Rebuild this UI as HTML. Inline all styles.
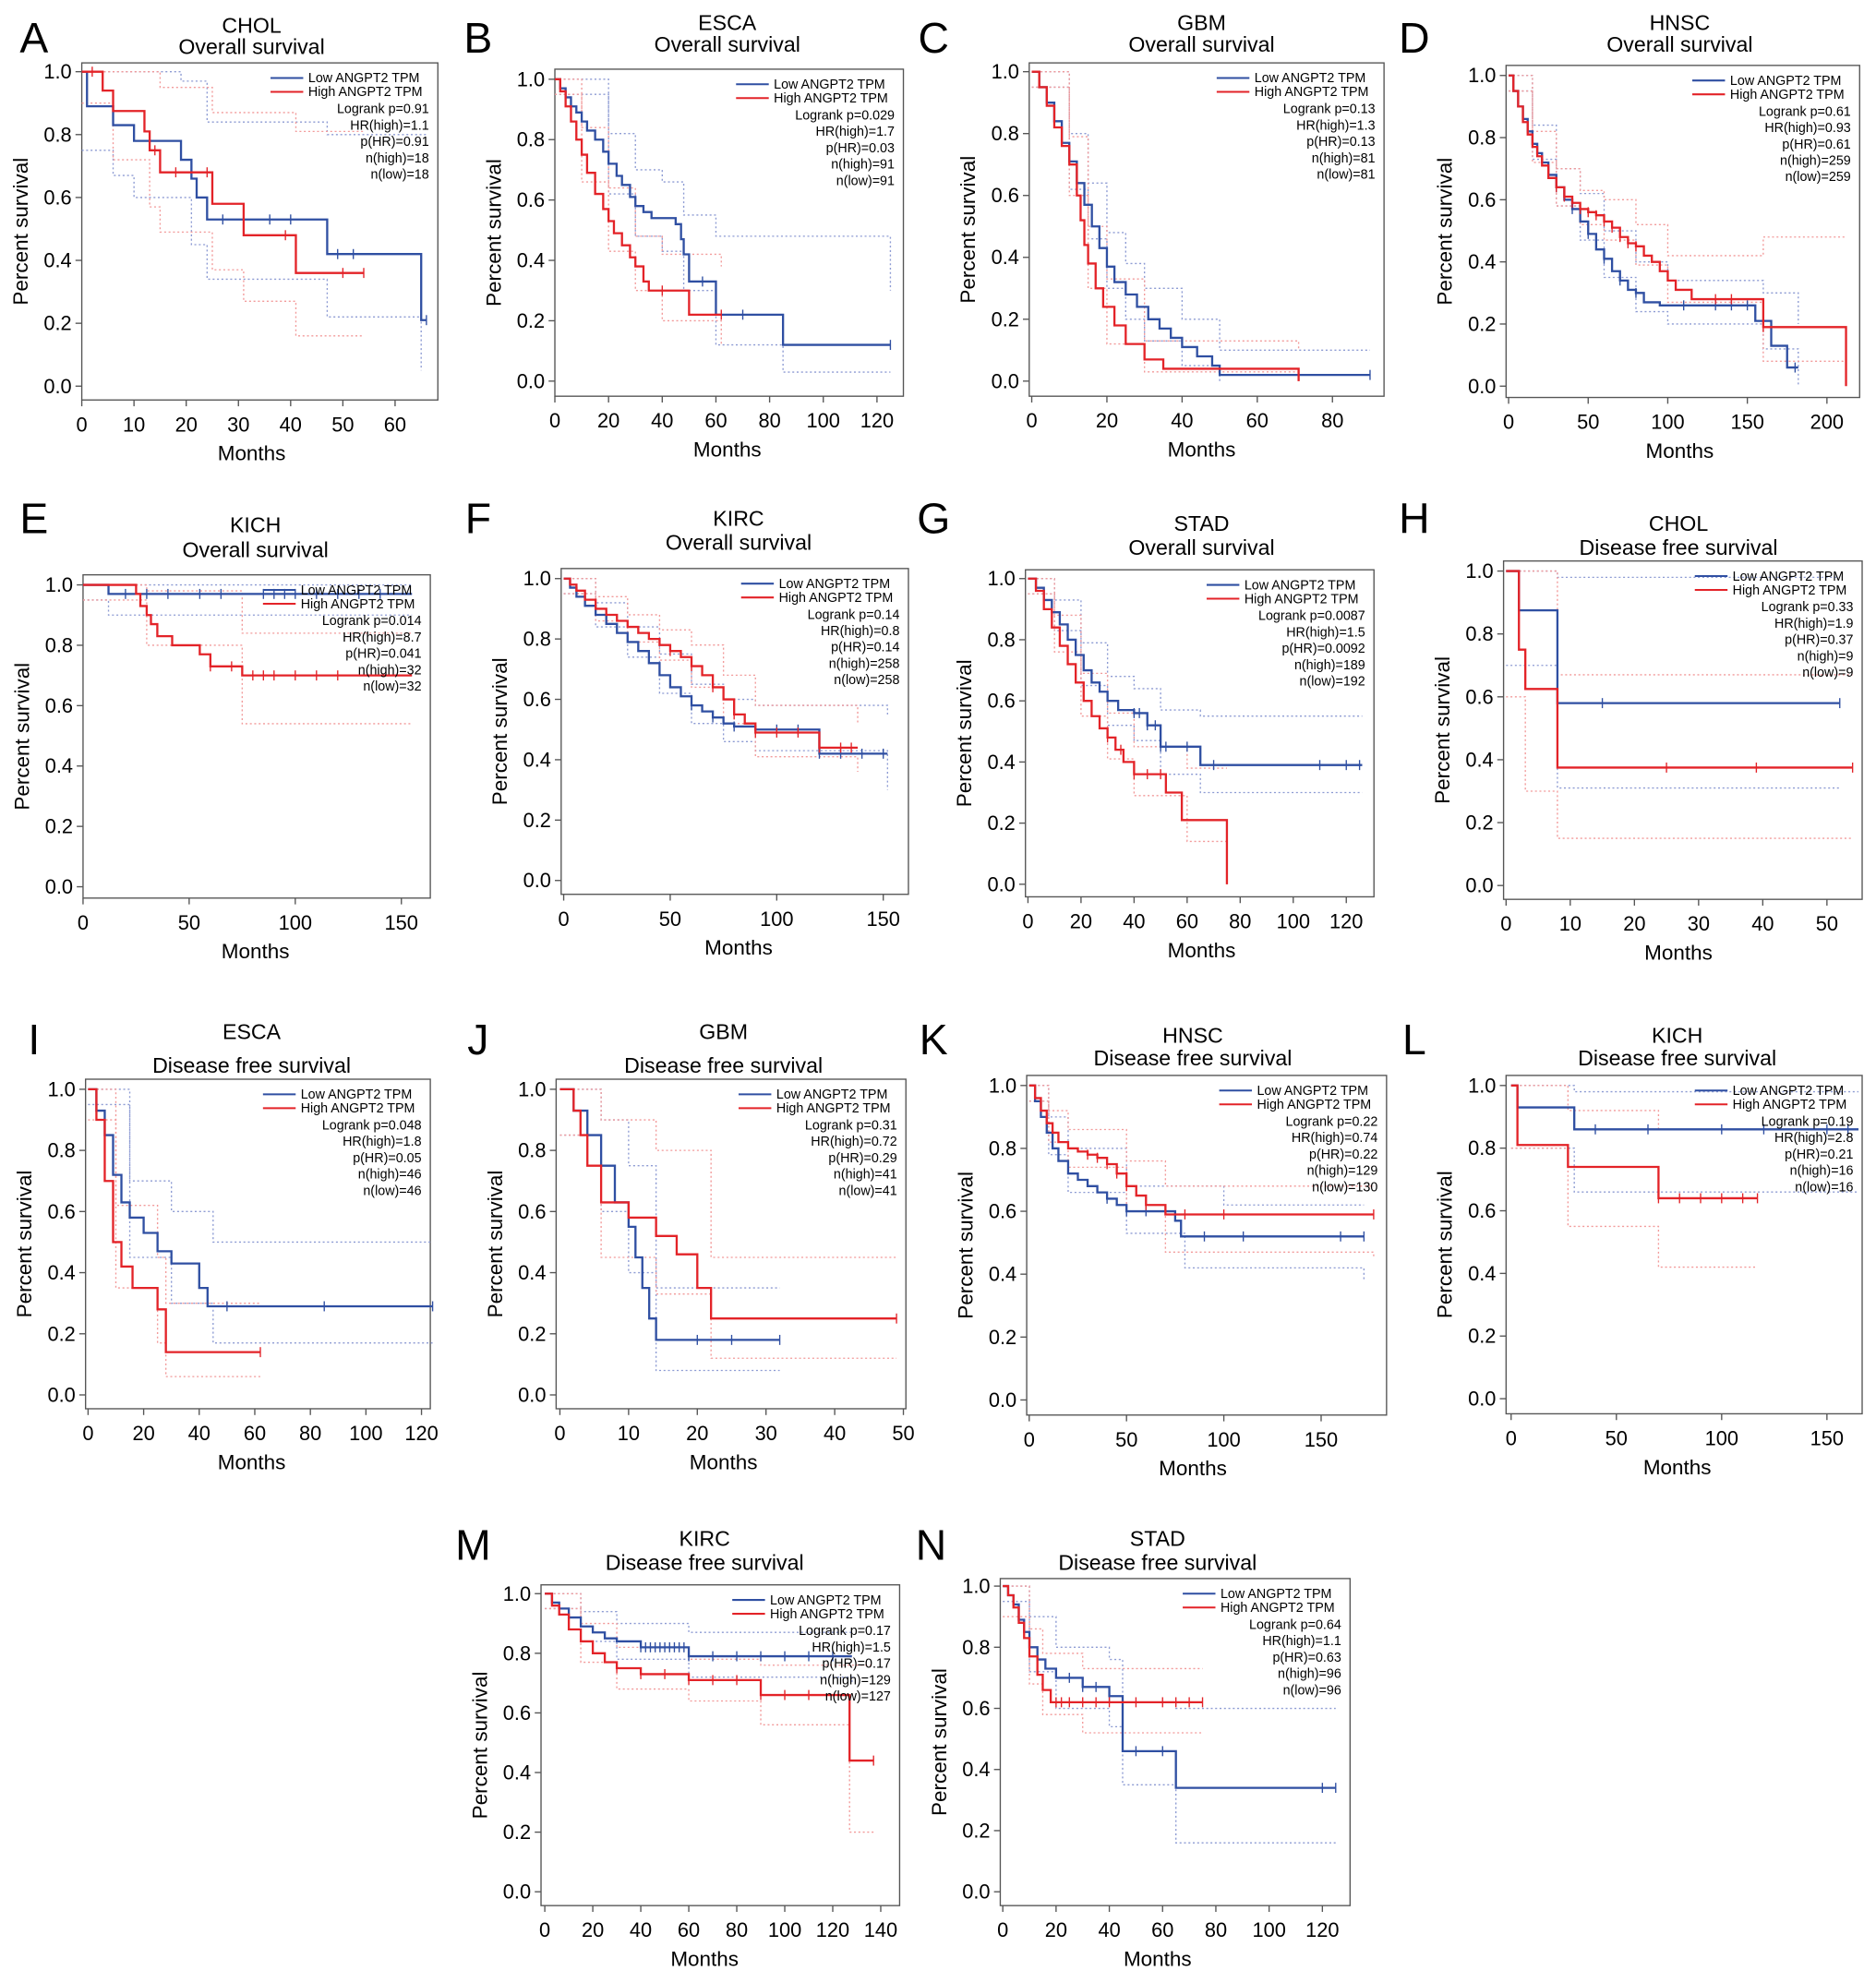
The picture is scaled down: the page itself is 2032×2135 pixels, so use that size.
<!DOCTYPE html>
<html><head><meta charset="utf-8">
<style>
html,body{margin:0;padding:0;background:#fff;}
svg{display:block;font-family:"Liberation Sans",Arial,sans-serif;}
</style></head>
<body>
<svg id="fig" width="2032" height="2135" viewBox="0 0 1491 1567" preserveAspectRatio="none" xmlns="http://www.w3.org/2000/svg"></svg>
<script>
// ---- data arrays (step points [months, survival]) ----
const panelLetters = ["A","B","C","D","E","F","G","H","I","J","K","L","M","N"];
const cancerNames = ["CHOL","ESCA","GBM","HNSC","KICH","KIRC","STAD","CHOL","ESCA","GBM","HNSC","KICH","KIRC","STAD"];
const endpointNames = ["Overall survival","Overall survival","Overall survival","Overall survival","Overall survival","Overall survival","Overall survival","Disease free survival","Disease free survival","Disease free survival","Disease free survival","Disease free survival","Disease free survival","Disease free survival"];
const logrankP = ["0.91","0.029","0.13","0.61","0.014","0.14","0.0087","0.33","0.048","0.31","0.22","0.19","0.17","0.64"];
const hrHigh = ["1.1","1.7","1.3","0.93","8.7","0.8","1.5","1.9","1.8","0.72","0.74","2.8","1.5","1.1"];
const pHR = ["0.91","0.03","0.13","0.61","0.041","0.14","0.0092","0.37","0.05","0.29","0.22","0.21","0.17","0.63"];
const nHigh = ["18","91","81","259","32","258","189","9","46","41","129","16","129","96"];
const nLow = ["18","91","81","259","32","258","192","9","46","41","130","16","127","96"];
const xTickStep = [10,20,20,50,50,50,20,10,20,10,50,50,20,20];
const xTickMax = [60,120,80,200,150,150,120,50,120,50,150,150,140,120];

const lowCurves = [
 [[0,1],[1,0.89],[6,0.83],[10,0.78],[19,0.72],[21,0.66],[22,0.6],[24,0.53],[47,0.42],[65,0.21],[66,0.21]],
 [[0,1],[2,0.97],[4,0.94],[6,0.91],[8,0.89],[10,0.86],[12,0.83],[15,0.8],[18,0.76],[20,0.72],[23,0.68],[25,0.65],[28,0.61],[30,0.58],[33,0.56],[36,0.54],[45,0.52],[47,0.47],[48,0.42],[50,0.33],[60,0.22],[85,0.12],[125,0.12]],
 [[0,1],[2,0.95],[4,0.9],[6,0.84],[8,0.77],[10,0.71],[12,0.64],[14,0.57],[16,0.5],[18,0.43],[20,0.37],[22,0.32],[25,0.28],[28,0.24],[31,0.2],[34,0.17],[37,0.14],[40,0.11],[44,0.08],[48,0.05],[50,0.02],[90,0.02]],
 [[0,1],[3,0.95],[6,0.9],[9,0.86],[12,0.82],[15,0.78],[18,0.75],[21,0.72],[25,0.68],[30,0.64],[35,0.6],[40,0.57],[45,0.53],[50,0.49],[55,0.44],[60,0.41],[65,0.37],[70,0.34],[75,0.31],[80,0.3],[85,0.27],[95,0.26],[155,0.21],[165,0.13],[175,0.06],[182,0.06]],
 [[0,1],[12,0.97],[155,0.97]],
 [[0,1],[3,0.97],[6,0.94],[10,0.91],[15,0.88],[20,0.85],[25,0.82],[30,0.79],[35,0.76],[40,0.72],[45,0.68],[50,0.64],[55,0.61],[60,0.58],[65,0.56],[70,0.54],[75,0.52],[80,0.51],[90,0.5],[120,0.42],[152,0.42]],
 [[0,1],[3,0.97],[6,0.93],[9,0.89],[12,0.85],[15,0.8],[18,0.75],[21,0.7],[24,0.66],[27,0.63],[30,0.6],[34,0.57],[40,0.56],[45,0.52],[50,0.45],[65,0.39],[126,0.39]],
 [[0,1],[2,0.875],[8,0.58],[52,0.58]],
 [[0,1],[3,0.93],[6,0.85],[9,0.72],[12,0.63],[15,0.58],[20,0.53],[25,0.47],[30,0.43],[40,0.35],[43,0.29],[124,0.29]],
 [[0,1],[2,0.93],[4,0.85],[6,0.75],[8,0.63],[10,0.55],[11,0.45],[12,0.35],[13,0.25],[14,0.18],[32,0.18]],
 [[0,1],[3,0.95],[6,0.9],[9,0.85],[12,0.8],[15,0.76],[20,0.72],[25,0.7],[30,0.68],[35,0.66],[40,0.64],[45,0.62],[50,0.6],[75,0.57],[78,0.52],[172,0.52]],
 [[0,1],[3,0.93],[30,0.86],[165,0.86]],
 [[0,1],[3,0.97],[6,0.95],[10,0.92],[15,0.89],[20,0.87],[25,0.85],[30,0.84],[40,0.82],[60,0.79],[128,0.79]],
 [[0,1],[2,0.97],[4,0.94],[6,0.89],[8,0.85],[10,0.8],[13,0.76],[16,0.73],[20,0.7],[30,0.67],[40,0.64],[45,0.46],[65,0.34],[125,0.34]]
];
const highCurves = [
 [[0,1],[4,0.94],[6,0.875],[12,0.81],[13,0.75],[15,0.68],[25,0.58],[31,0.48],[41,0.36],[54,0.36]],
 [[0,1],[2,0.96],[4,0.91],[6,0.86],[8,0.8],[10,0.75],[12,0.69],[15,0.62],[18,0.57],[20,0.53],[22,0.49],[25,0.45],[28,0.41],[30,0.38],[33,0.33],[35,0.3],[50,0.22],[62,0.22]],
 [[0,1],[2,0.95],[4,0.89],[6,0.82],[8,0.76],[10,0.7],[12,0.6],[13,0.52],[14,0.44],[15,0.38],[17,0.3],[19,0.24],[22,0.18],[25,0.12],[30,0.07],[35,0.04],[71,0.0],[71,0.0]],
 [[0,1],[3,0.95],[6,0.9],[9,0.85],[12,0.81],[15,0.77],[18,0.74],[21,0.71],[25,0.67],[30,0.64],[35,0.61],[40,0.59],[45,0.57],[50,0.56],[55,0.55],[60,0.53],[65,0.51],[70,0.48],[75,0.46],[80,0.45],[85,0.42],[90,0.4],[95,0.37],[100,0.34],[105,0.31],[115,0.28],[160,0.19],[212,0.0],[212,0.0]],
 [[0,1],[25,0.97],[27,0.93],[30,0.9],[32,0.87],[35,0.83],[42,0.8],[55,0.77],[60,0.73],[75,0.7],[155,0.7]],
 [[0,1],[3,0.98],[6,0.96],[10,0.93],[15,0.9],[20,0.88],[25,0.86],[30,0.84],[35,0.82],[40,0.8],[45,0.78],[50,0.76],[55,0.74],[60,0.71],[65,0.68],[70,0.64],[75,0.6],[80,0.55],[85,0.52],[90,0.49],[120,0.44],[138,0.44]],
 [[0,1],[3,0.96],[6,0.9],[9,0.84],[12,0.78],[15,0.72],[18,0.66],[21,0.6],[24,0.55],[27,0.51],[30,0.48],[33,0.44],[36,0.4],[40,0.36],[52,0.3],[58,0.21],[75,0.0],[75,0.0]],
 [[0,1],[2,0.75],[3,0.625],[8,0.375],[54,0.375]],
 [[0,1],[3,0.9],[6,0.7],[9,0.5],[12,0.42],[16,0.35],[25,0.28],[28,0.14],[62,0.14]],
 [[0,1],[2,0.93],[3,0.85],[4,0.75],[6,0.63],[10,0.58],[14,0.52],[17,0.46],[20,0.35],[22,0.25],[49,0.25]],
 [[0,1],[3,0.96],[6,0.92],[9,0.88],[12,0.85],[15,0.82],[20,0.8],[25,0.79],[30,0.78],[35,0.77],[40,0.75],[45,0.72],[50,0.68],[55,0.65],[60,0.62],[70,0.59],[177,0.59]],
 [[0,1],[3,0.81],[27,0.74],[70,0.64],[117,0.64]],
 [[0,1],[3,0.96],[6,0.93],[10,0.88],[15,0.84],[20,0.8],[25,0.77],[30,0.75],[40,0.73],[60,0.71],[90,0.66],[127,0.44],[137,0.44]],
 [[0,1],[2,0.97],[4,0.93],[6,0.88],[8,0.83],[10,0.77],[13,0.71],[15,0.66],[18,0.62],[75,0.62]]
];
const lowCensor = [[27,36,40,49,52,66],[55,70,125],[90],[30,40,50,60,70,80,110,130,140,150,180],[20,30,40,55,65,85,90,95,100,110,120,130,140],[60,70,80,90,100,110,120,130,140,150],[40,42,45,48,50,52,60,70,110,120,125],[15,52],[50,85,124],[20,25,32],[40,50,60,90,110,160,172],[40,65,100,120,150,160],[40,42,44,46,48,50,52,54,56,58,60,70,80,90,100,110,120],[25,30,35,40,50,60,120,125]];
const highCensor = [[2,14,18,24,39,50,54],[40,62],[],[30,35,40,45,50,55,60,65,70,75,80,130,140,160],[60,70,80,85,90,100,110,120],[50,60,70,80,90,100,110,120,130,135],[30,35,40,45,50],[25,39,54],[62],[49],[30,35,40,45,50,60,80,100,177],[70,80,90,100,110,117],[30,40,50,60,70,80,90,100,110,137],[20,22,25,30,35,40,50,60,65,70,75]];
// confidence bands (coarse step points)
const lowUpper = [
 [[0,1],[19,0.97],[24,0.84],[47,0.8],[66,0.8]],[[0,1],[20,0.82],[30,0.7],[40,0.66],[48,0.55],[60,0.48],[125,0.3]],[[0,1],[10,0.8],[15,0.64],[20,0.48],[25,0.38],[30,0.3],[40,0.2],[50,0.1],[90,0.1]],[[0,1],[15,0.84],[30,0.7],[45,0.62],[60,0.5],[80,0.4],[100,0.34],[160,0.3],[182,0.2]],
 [[0,1],[155,1]],[[0,1],[15,0.92],[30,0.84],[45,0.75],[60,0.65],[75,0.6],[90,0.58],[152,0.55]],[[0,1],[10,0.93],[20,0.79],[30,0.68],[40,0.64],[50,0.57],[65,0.55],[126,0.55]],[[0,1],[8,0.98],[52,0.98]],
 [[0,1],[15,0.7],[30,0.6],[45,0.5],[124,0.5]],[[0,1],[6,0.9],[10,0.75],[14,0.35],[32,0.35]],[[0,1],[10,0.9],[20,0.8],[50,0.68],[100,0.62],[172,0.62]],[[0,1],[30,0.98],[165,0.98]],
 [[0,1],[15,0.94],[30,0.9],[60,0.87],[128,0.87]],[[0,1],[10,0.9],[20,0.8],[40,0.76],[45,0.62],[65,0.6],[125,0.6]]];
const lowLower = [
 [[0,0.75],[6,0.67],[10,0.6],[21,0.45],[24,0.34],[47,0.22],[65,0.05]],[[0,0.95],[20,0.62],[30,0.48],[40,0.43],[48,0.3],[60,0.12],[85,0.03],[125,0.03]],[[0,0.95],[10,0.62],[15,0.46],[20,0.3],[25,0.2],[30,0.13],[40,0.05],[50,0.0]],[[0,0.95],[15,0.73],[30,0.58],[45,0.47],[60,0.35],[80,0.24],[100,0.2],[160,0.12],[182,0.0]],
 [[0,0.95],[12,0.9],[155,0.9]],[[0,0.95],[15,0.84],[30,0.74],[45,0.62],[60,0.52],[75,0.46],[90,0.43],[152,0.3]],[[0,0.95],[10,0.83],[20,0.65],[30,0.52],[40,0.47],[50,0.36],[65,0.3],[126,0.3]],[[0,0.7],[8,0.31],[52,0.31]],
 [[0,0.95],[15,0.45],[30,0.3],[45,0.17],[124,0.17]],[[0,0.85],[6,0.6],[10,0.4],[14,0.08],[32,0.08]],[[0,0.95],[10,0.78],[20,0.66],[50,0.53],[80,0.42],[172,0.38]],[[0,0.8],[30,0.66],[165,0.66]],
 [[0,0.95],[15,0.84],[30,0.78],[60,0.72],[128,0.7]],[[0,0.95],[10,0.72],[20,0.6],[40,0.54],[45,0.35],[65,0.16],[125,0.16]]];
const highUpper = [
 [[0,1],[15,0.95],[25,0.87],[41,0.81],[54,0.81]],[[0,1],[10,0.84],[20,0.64],[30,0.48],[40,0.42],[62,0.38]],[[0,1],[10,0.79],[15,0.5],[20,0.33],[30,0.13],[71,0.1]],[[0,1],[15,0.82],[30,0.7],[45,0.63],[60,0.6],[80,0.52],[100,0.42],[160,0.48],[212,0.48]],
 [[0,1],[30,0.98],[75,0.84],[155,0.84]],[[0,1],[15,0.94],[30,0.88],[45,0.83],[60,0.78],[75,0.68],[90,0.58],[138,0.52]],[[0,1],[10,0.88],[20,0.69],[30,0.56],[40,0.45],[60,0.38],[75,0.38]],[[0,1],[8,0.67],[54,0.67]],
 [[0,1],[10,0.62],[25,0.45],[28,0.3],[62,0.3]],[[0,1],[6,0.9],[14,0.8],[22,0.45],[49,0.45]],[[0,1],[10,0.92],[20,0.86],[50,0.76],[70,0.68],[177,0.68]],[[0,1],[27,0.92],[70,0.86],[117,0.86]],
 [[0,1],[15,0.9],[30,0.82],[60,0.78],[90,0.76],[137,0.76]],[[0,1],[10,0.86],[15,0.78],[30,0.73],[75,0.73]]];
const highLower = [
 [[0,0.9],[6,0.72],[13,0.57],[15,0.49],[25,0.37],[31,0.27],[41,0.16],[54,0.16]],[[0,0.95],[10,0.66],[20,0.43],[30,0.3],[40,0.2],[62,0.12]],[[0,0.95],[10,0.6],[15,0.3],[20,0.12],[30,0.03],[71,0]],[[0,0.95],[15,0.72],[30,0.58],[45,0.52],[60,0.47],[80,0.39],[100,0.27],[160,0.08],[212,0]],
 [[0,0.95],[30,0.8],[75,0.54],[155,0.54]],[[0,0.95],[15,0.86],[30,0.79],[45,0.73],[60,0.64],[75,0.52],[90,0.41],[138,0.36]],[[0,0.95],[10,0.76],[20,0.55],[30,0.41],[40,0.29],[60,0.14],[75,0]],[[0,0.6],[3,0.3],[8,0.15],[54,0.15]],
 [[0,0.9],[10,0.35],[25,0.17],[28,0.06],[62,0.06]],[[0,0.85],[6,0.45],[14,0.33],[22,0.12],[49,0.12]],[[0,0.95],[10,0.82],[20,0.74],[50,0.6],[70,0.47],[177,0.45]],[[0,0.8],[27,0.55],[70,0.42],[117,0.42]],
 [[0,0.95],[15,0.77],[30,0.68],[60,0.64],[90,0.56],[127,0.2],[137,0.2]],[[0,0.9],[10,0.68],[15,0.58],[30,0.52],[75,0.52]]];

// ---- layout (display coords) ----
const boxes = [
 {l:65,r:348,t:50,b:318,y1:57,y0:307,x0:65,xr:249/60},
 {l:441,r:718,t:55,b:315,y1:63,y0:303,x0:441,xr:256/120},
 {l:818,r:1100,t:50,b:315,y1:57,y0:303,x0:820,xr:239/80},
 {l:1197,r:1478,t:52,b:316,y1:60,y0:307,x0:1199,xr:253/200},
 {l:66,r:342,t:457,b:714,y1:465,y0:705,x0:66,xr:253/150},
 {l:446,r:722,t:452,b:711,y1:460,y0:700,x0:448,xr:254/150},
 {l:815,r:1092,t:453,b:713,y1:460,y0:703,x0:817,xr:253/120},
 {l:1195,r:1480,t:446,b:715,y1:454,y0:704,x0:1197,xr:255/50},
 {l:68,r:342,t:858,b:1120,y1:866,y0:1109,x0:70,xr:265/120},
 {l:442,r:720,t:858,b:1120,y1:866,y0:1109,x0:445,xr:273/50},
 {l:816,r:1102,t:855,b:1125,y1:863,y0:1113,x0:818,xr:232/150},
 {l:1197,r:1480,t:855,b:1124,y1:863,y0:1112,x0:1201,xr:251/150},
 {l:430,r:715,t:1260,b:1515,y1:1267,y0:1504,x0:433,xr:267/140},
 {l:795,r:1073,t:1255,b:1515,y1:1261,y0:1504,x0:797,xr:254/120}
];
const letterPos = [[27,30],[380,30],[742,30],[1124,30],[27,412],[380,412],[742,412],[1124,412],[27,826],[380,826],[742,826],[1124,826],[376,1228],[740,1228]];
const titleY = [[20,37],[18,35],[18,35],[18,35],[417,437],[412,431],[416,435],[416,435],[820,847],[820,847],[823,841],[823,841],[1223,1242],[1223,1242]];
const titleX = [200,578,955,1335,203,587,955,1334,200,575,948,1333,560,920];

const NS="http://www.w3.org/2000/svg";
const svg=document.getElementById('fig');
function mk(tag,attrs,parent,text){const e=document.createElementNS(NS,tag);for(const k in attrs)e.setAttribute(k,attrs[k]);if(text!==undefined)e.textContent=text;(parent||svg).appendChild(e);return e;}
function stepPath(pts,X,Y){let d='M'+X(pts[0][0])+','+Y(pts[0][1]);for(let i=1;i<pts.length;i++){d+=' H'+X(pts[i][0])+' V'+Y(pts[i][1]);}return d;}
function survAt(pts,t){let s=pts[0][1];for(const p of pts){if(p[0]<=t)s=p[1];}return s;}

boxes.forEach((B,i)=>{
  const g=mk('g',{});
  
  
  const X=t=>B.x0+t*B.xr, Y=s=>B.y0+(B.y1-B.y0)*s;
  const L=mk('text',{x:letterPos[i][0],y:letterPos[i][1]+12,'font-size':34,'text-anchor':'middle'},g,panelLetters[i]);
  
  const cx=(B.l+B.r)/2, tx=titleX[i];
  const t1=mk('text',{x:tx,y:titleY[i][0]+6,'font-size':17,'text-anchor':'middle'},g,cancerNames[i]);
  
  const t2=mk('text',{x:tx,y:titleY[i][1]+6,'font-size':17,'text-anchor':'middle'},g,endpointNames[i]);
  
  const fr=mk('rect',{x:B.l,y:B.t,width:B.r-B.l,height:B.b-B.t,fill:'none',stroke:'#555','stroke-width':1},g);
  
  for(let k=0;k<=5;k++){const v=k*0.2,y=Y(v);
    mk('line',{x1:B.l-5,x2:B.l,y1:y,y2:y,stroke:'#555'},g);
    const tl=mk('text',{x:B.l-8,y:y+5.5,'font-size':16,'text-anchor':'end'},g,v.toFixed(1));
    }
  for(let v=0;v<=xTickMax[i];v+=xTickStep[i]){const x=X(v);
    mk('line',{x1:x,x2:x,y1:B.b,y2:B.b+5,stroke:'#555'},g);
    const tl=mk('text',{x:x,y:B.b+25,'font-size':16,'text-anchor':'middle'},g,String(v));
    }
  const xt=mk('text',{x:tx,y:B.b+48,'font-size':16.5,'text-anchor':'middle'},g,'Months');
  
  const ym=(B.t+B.b)/2;
  const yt=mk('text',{x:B.l-43,y:ym,'font-size':16.5,'text-anchor':'middle',transform:'rotate(-90 '+(B.l-43)+' '+ym+')'},g,'Percent survival');
  
  [[lowUpper,'#8d9bd3'],[lowLower,'#8d9bd3'],[highUpper,'#f29a9a'],[highLower,'#f29a9a']].forEach(([arr,col])=>{
    const p=mk('path',{d:stepPath(arr[i],X,Y),fill:'none',stroke:col,'stroke-width':1,'stroke-dasharray':'1.5,2'},g);
    });
  [[lowCurves,lowCensor,'#2f4fa2','low'],[highCurves,highCensor,'#e32328','high']].forEach(([cv,cs,col,nm])=>{
    const p=mk('path',{d:stepPath(cv[i],X,Y),fill:'none',stroke:col,'stroke-width':1.7},g);
    
    cs[i].forEach(t=>{const y=Y(survAt(cv[i],t));
      const c=mk('line',{x1:X(t),x2:X(t),y1:y-4,y2:y+4,stroke:col,'stroke-width':1},g);
      });
  });
  const lx=B.r-133, ly=B.t+12;
  const lg=mk('g',{},g);
  mk('line',{x1:lx,x2:lx+26,y1:ly,y2:ly,stroke:'#2f4fa2','stroke-width':1.5},lg);
  mk('line',{x1:lx,x2:lx+26,y1:ly+11,y2:ly+11,stroke:'#e32328','stroke-width':1.5},lg);
  mk('text',{x:lx+30,y:ly+3.5,'font-size':10.5},lg,'Low ANGPT2 TPM');
  mk('text',{x:lx+30,y:ly+14.5,'font-size':10.5},lg,'High ANGPT2 TPM');
  const stats=['Logrank p='+logrankP[i],'HR(high)='+hrHigh[i],'p(HR)='+pHR[i],'n(high)='+nHigh[i],'n(low)='+nLow[i]];
  stats.forEach((s,k)=>mk('text',{x:B.r-7,y:ly+28+k*13,'font-size':10.5,'text-anchor':'end'},lg,s));
});
</script>
</body></html>
